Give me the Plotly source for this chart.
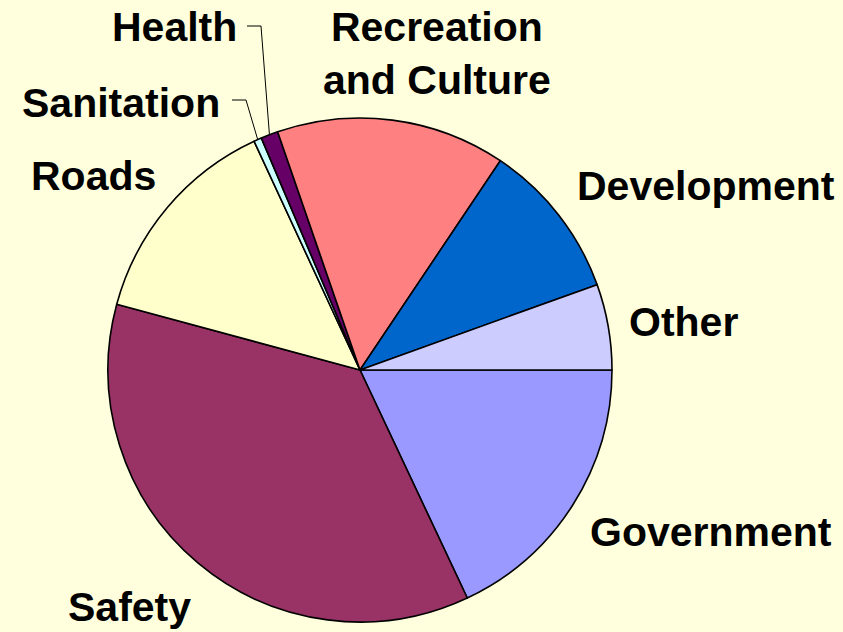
import math
import plotly.graph_objects as go

# ---- data ----
categories = ["Government", "Safety", "Roads", "Sanitation", "Health",
              "Recreation and Culture", "Development", "Other"]
values = [18.0, 36.2, 13.9, 0.5, 1.1, 14.7, 10.1, 5.5]
colors = ["#9999FF", "#993366", "#FFFFCC", "#CCFFFF", "#660066",
          "#FF8080", "#0066CC", "#CCCCFF"]
label_text = ["Government", "Safety", "Roads", "Sanitation", "Health",
              "Recreation<br>and Culture", "Development", "Other"]

# ---- layout constants (pixels) ----
W, H = 843, 632
CX, CY, R = 360, 370, 252
BG = "#FFFFDD"
label_pos = {  # label centre in pixels
    "Government": (711, 532),
    "Safety": (129, 607),
    "Roads": (93, 176),
    "Sanitation": (121, 103),
    "Health": (174, 27),
    "Recreation and Culture": (437, 53),
    "Development": (706, 186),
    "Other": (683, 322),
}
leader_elbows = {  # start and elbow of leader lines, pixels
    "Health": [(247, 26), (261, 26)],
    "Sanitation": [(232, 100), (246, 100)],
}

def px(x, y):
    return x / W, 1 - y / H

fig = go.Figure(go.Pie(
    labels=categories,
    values=values,
    marker=dict(colors=colors, line=dict(color="black", width=1.6)),
    sort=False,
    direction="clockwise",
    rotation=90,
    textinfo="none",
    hoverinfo="label+percent",
    showlegend=False,
    domain=dict(x=[(CX - R) / W, (CX + R) / W],
                y=[(H - CY - R) / H, (H - CY + R) / H]),
))

annotations = []
for cat, txt in zip(categories, label_text):
    x, y = px(*label_pos[cat])
    annotations.append(dict(
        x=x, y=y, xref="paper", yref="paper", text=txt, showarrow=False,
        xanchor="center", yanchor="middle",
        font=dict(family="Liberation Sans, Arial, sans-serif", size=41,
                  color="black", weight="bold"),
    ))

# leader lines ending at the mid-angle of the small slices
total = sum(values)
shapes = []
cum = 0.0
for cat, v in zip(categories, values):
    mid = cum + v / 2
    cum += v
    if cat in leader_elbows:
        ang = -mid / total * 2 * math.pi  # clockwise from 3 o'clock
        ex = CX + R * math.cos(ang)
        ey = CY - R * math.sin(ang)
        pts = leader_elbows[cat] + [(ex, ey)]
        pp = [px(a, b) for a, b in pts]
        path = "M {} {} L {} {} L {} {}".format(*[c for p in pp for c in p])
        shapes.append(dict(type="path", xref="paper", yref="paper", path=path,
                           line=dict(color="black", width=1)))

fig.update_layout(
    width=W, height=H,
    margin=dict(l=0, r=0, t=0, b=0),
    paper_bgcolor=BG, plot_bgcolor=BG,
    annotations=annotations, shapes=shapes,
)

fig.write_html(
    "out.html",
    config={"displayModeBar": False},
    post_script="document.body.style.margin='0';document.body.style.padding='0';"
                "document.body.style.overflow='hidden';"
                "document.body.style.background='" + BG + "';",
)
